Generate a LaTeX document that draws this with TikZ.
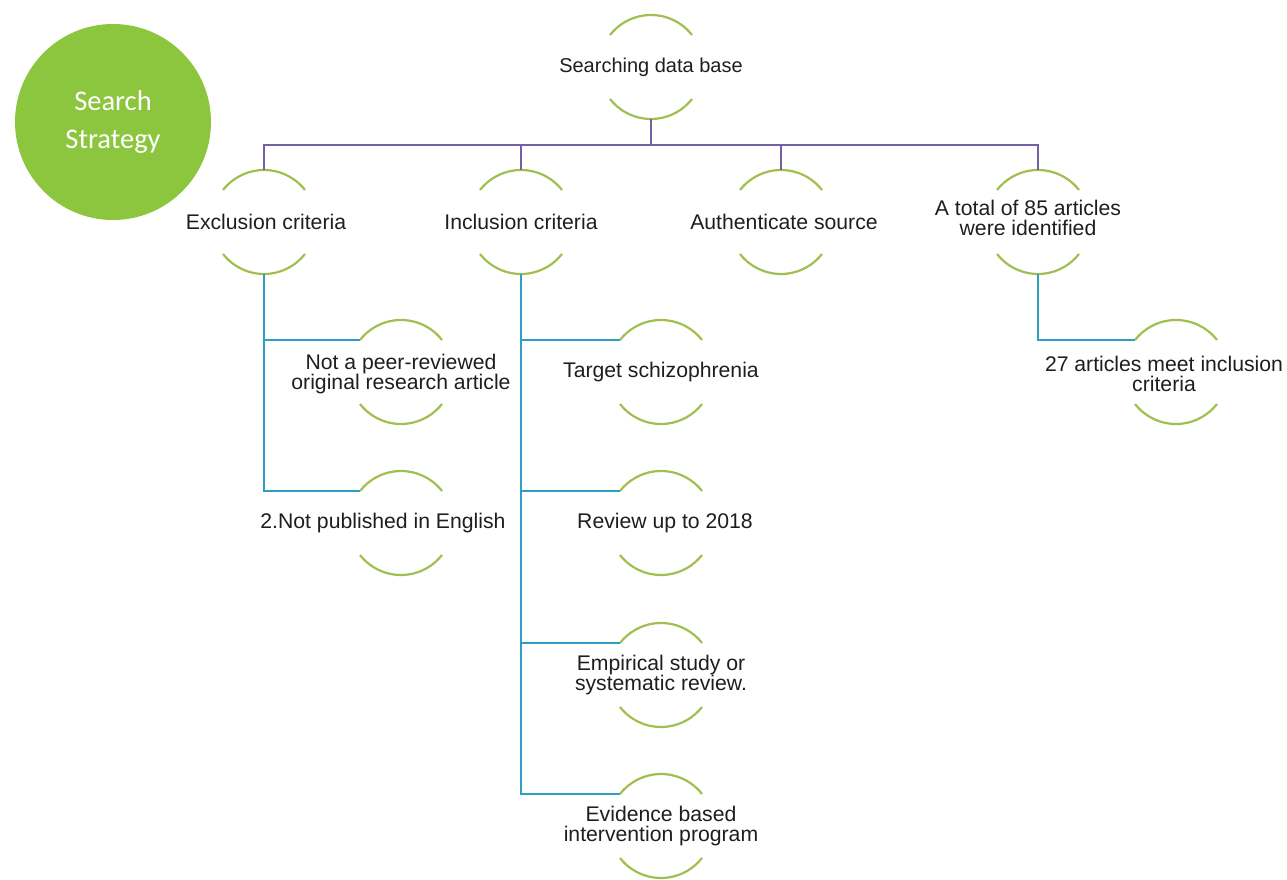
\documentclass[tikz,border=0pt]{standalone}
\usepackage{fontspec}
\setmainfont{Liberation Sans}
\newfontfamily\circfont{Carlito}
\usetikzlibrary{calc}
\definecolor{arcgreen}{HTML}{A0BF50}
\definecolor{bigg}{HTML}{8CC63F}
\definecolor{purp}{HTML}{7560A8}
\definecolor{tealc}{HTML}{2E9FC2}
\definecolor{txtc}{HTML}{1E1E1E}
\begin{document}
\begin{tikzpicture}[x=1pt,y=1pt,
  hc/.style={circle,minimum size=104pt,inner sep=0pt,outer sep=0pt},
  txt/.style={font=\fontsize{21.2}{20}\selectfont,text=txtc,align=center,inner sep=0pt},
  arcline/.style={draw=arcgreen,line width=2.2pt},
  purpline/.style={draw=purp,line width=2pt},
  tealline/.style={draw=tealc,line width=2.2pt}]
\useasboundingbox (0,0) rectangle (1287,879);

% big circle
\node[circle,fill=bigg,minimum size=196pt,inner sep=0pt] (ss) at (113,757) {};
\node[font=\circfont\fontsize{28.5}{38}\selectfont,text=white,align=center] (sst) at (ss.center) {Search\\Strategy};

% half-circle holders
\node[hc] (top) at (651,812) {};
\node[hc] (exc) at (264,657) {};
\node[hc] (inc) at (521,657) {};
\node[hc] (auth) at (781,657) {};
\node[hc] (tot) at (1038,657) {};
\node[hc] (e1) at (401,507) {};
\node[hc] (e2) at (401,356) {};
\node[hc] (i1) at (661,507) {};
\node[hc] (i2) at (661,356) {};
\node[hc] (i3) at (661,204) {};
\node[hc] (i4) at (661,53) {};
\node[hc] (t1) at (1176,507) {};

% texts
\node[txt,font=\fontsize{20}{20}\selectfont] (topt) at (top.center) {Searching data base};
\node[txt] (exct) at ([xshift=2pt]exc.center) {Exclusion criteria};
\node[txt] (inct) at (inc.center) {Inclusion criteria};
\node[txt] (autht) at ([xshift=3pt]auth.center) {Authenticate source};
\node[txt] (tott) at ([xshift=-10pt,yshift=4pt]tot.center) {A total of 85 articles\\were identified};
\node[txt] (e1t) at ([yshift=-2pt]e1.center) {Not a peer-reviewed\\original research article};
\node[txt] (e2t) at ([xshift=-18pt]e2.center) {2.Not published in English};
\node[txt] (i1t) at (i1.center) {Target schizophrenia};
\node[txt] (i2t) at ([xshift=4pt]i2.center) {Review up to 2018};
\node[txt] (i3t) at (i3.center) {Empirical study or\\systematic review.};
\node[txt] (i4t) at (i4.center) {Evidence based\\intervention program};
\node[txt] (t1t) at ([xshift=-12pt,yshift=-2pt]t1.center) {27 articles meet inclusion\\criteria};

% arcs
\foreach \n in {top,exc,inc,auth,tot,e1,e2,i1,i2,i3,i4,t1}{
  \draw[arcline] (\n.38) arc[start angle=38,end angle=142,radius=52];
  \draw[arcline] (\n.218) arc[start angle=218,end angle=322,radius=52];
}

% purple connectors
\coordinate (bus) at ([yshift=-26pt]top.south);
\draw[purpline] (top.south) -- (bus);
\foreach \n in {exc,inc,auth,tot}{
  \draw[purpline] (bus) -| (\n.north);
}

% teal connectors
\draw[tealline] (exc.south) |- (e1.142);
\draw[tealline] (exc.south) |- (e2.142);
\draw[tealline] (inc.south) |- (i1.142);
\draw[tealline] (inc.south) |- (i2.142);
\draw[tealline] (inc.south) |- (i3.142);
\draw[tealline] (inc.south) |- (i4.142);
\draw[tealline] (tot.south) |- (t1.142);
\end{tikzpicture}
\end{document}
